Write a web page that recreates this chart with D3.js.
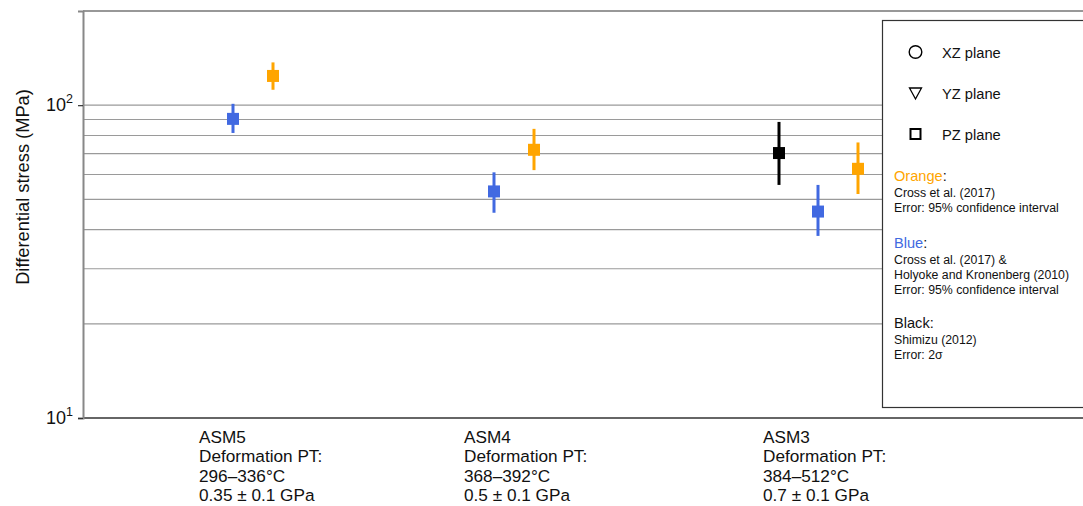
<!DOCTYPE html>
<html>
<head>
<meta charset="utf-8">
<script src="https://cdn.jsdelivr.net/npm/d3@7"></script>
<style>
  body { margin: 0; background: #fff; }
  text { font-family: "Liberation Sans", Arial, sans-serif; }
</style>
</head>
<body>
<div id="chart"></div>
<script>
// Samples along the x axis
var samples = ["ASM5", "ASM4", "ASM3"];
var sampleTemps = ["296–336°C", "368–392°C", "384–512°C"];
var samplePressures = ["0.35 ± 0.1 GPa", "0.5 ± 0.1 GPa", "0.7 ± 0.1 GPa"];
var sampleLabelX = [1.16, 3.81, 6.80];

// Orange: Cross et al. (2017)
var orangeX = [1.90, 4.51, 7.75];
var orangeStress = [124, 72, 62.6];
var orangeLow = [112, 62, 52];
var orangeHigh = [137, 84, 76];

// Blue: Cross et al. (2017) & Holyoke and Kronenberg (2010)
var blueX = [1.50, 4.11, 7.35];
var blueStress = [90.4, 53, 45.7];
var blueLow = [81.5, 45.3, 38.2];
var blueHigh = [101, 61, 55.6];

// Black: Shimizu (2012)
var blackX = [6.96];
var blackStress = [70.3];
var blackLow = [55.6];
var blackHigh = [88.4];

var yTicks = [10, 100];
var yGrid = [20, 30, 40, 50, 60, 70, 80, 90, 100];

var width = 1083, height = 506;
var margin = { top: 11, left: 83, bottom: 88 };

var svg = d3.select("#chart").append("svg")
  .attr("width", width)
  .attr("height", height);

var x = d3.scaleLinear().domain([0, 10]).range([margin.left, margin.left + 1000]);
var y = d3.scaleLog().domain([10, 200]).range([height - margin.bottom, margin.top]);

// grid lines
svg.append("g").selectAll("line")
  .data(yGrid)
  .enter().append("line")
    .attr("x1", margin.left).attr("x2", width)
    .attr("y1", function(d) { return y(d); })
    .attr("y2", function(d) { return y(d); })
    .style("stroke", "#9a9a9a")
    .style("stroke-width", 1.1);

// top border
svg.append("line")
  .attr("x1", margin.left).attr("x2", width)
  .attr("y1", y(200)).attr("y2", y(200))
  .style("stroke", "#333").style("stroke-width", 1.2);

// bottom axis line
svg.append("line")
  .attr("x1", margin.left).attr("x2", width)
  .attr("y1", y(10)).attr("y2", y(10))
  .style("stroke", "#333").style("stroke-width", 1.5);

// left axis
var yAxis = svg.append("g")
  .attr("transform", "translate(" + margin.left + ",0)")
  .call(d3.axisLeft(y).tickValues(yTicks).tickSize(5).tickFormat(""));
yAxis.select(".domain").style("stroke", "#888").style("stroke-width", 2);
yAxis.selectAll(".tick line").style("stroke", "#333").style("stroke-width", 1.2);

var tickLabel = svg.append("g").selectAll("text")
  .data(yTicks)
  .enter().append("text")
    .attr("x", margin.left - 10)
    .attr("y", function(d) { return y(d) + 6; })
    .attr("text-anchor", "end")
    .style("font-size", "18px")
    .style("fill", "#111");
tickLabel.append("tspan").text("10");
tickLabel.append("tspan")
  .attr("dy", -8)
  .style("font-size", "12.5px")
  .text(function(d) { return Math.round(Math.log10(d)); });

// y label
svg.append("text")
  .attr("transform", "translate(29," + 187 + ") rotate(-90)")
  .attr("text-anchor", "middle")
  .style("font-size", "18.3px")
  .style("fill", "#111")
  .text("Differential stress (MPa)");

// x labels, one text per line
samples.forEach(function(s, i) {
  var lines = [s, "Deformation PT:", sampleTemps[i], samplePressures[i]];
  svg.append("g").selectAll("text")
    .data(lines)
    .enter().append("text")
      .attr("x", x(sampleLabelX[i]))
      .attr("y", function(d, k) { return y(10) + 25 + k * 19.3; })
      .style("font-size", "17.2px")
      .style("fill", "#111")
      .text(function(d) { return d; });
});

// error bars + markers
function drawSeries(xs, vals, lows, highs, color) {
  var g = svg.append("g");
  var pts = vals.map(function(v, i) { return { x: xs[i], v: v, lo: lows[i], hi: highs[i] }; });
  g.selectAll("line")
    .data(pts)
    .enter().append("line")
      .attr("x1", function(d) { return x(d.x); })
      .attr("x2", function(d) { return x(d.x); })
      .attr("y1", function(d) { return y(d.lo); })
      .attr("y2", function(d) { return y(d.hi); })
      .style("stroke", color)
      .style("stroke-width", 3);
  g.selectAll("rect")
    .data(pts)
    .enter().append("rect")
      .attr("x", function(d) { return x(d.x) - 6; })
      .attr("y", function(d) { return y(d.v) - 6; })
      .attr("width", 12)
      .attr("height", 12)
      .style("fill", color);
}
drawSeries(blueX, blueStress, blueLow, blueHigh, "#4169e1");
drawSeries(orangeX, orangeStress, orangeLow, orangeHigh, "#ffa500");
drawSeries(blackX, blackStress, blackLow, blackHigh, "#000");

// legend
var lg = svg.append("g");
lg.append("rect")
  .attr("x", 882.5).attr("y", 20.5)
  .attr("width", 260).attr("height", 387)
  .style("fill", "#fff")
  .style("stroke", "#333")
  .style("stroke-width", 1.2);

var markerNames = ["XZ plane", "YZ plane", "PZ plane"];
var markerY = [52, 93, 134];
lg.append("circle")
  .attr("cx", 915.5).attr("cy", markerY[0]).attr("r", 6.3)
  .style("fill", "none").style("stroke", "#000").style("stroke-width", 1.4);
lg.append("path")
  .attr("d", "M909.5," + (markerY[1] - 5) + "L921.5," + (markerY[1] - 5) + "L915.5," + (markerY[1] + 6) + "Z")
  .style("fill", "none").style("stroke", "#000").style("stroke-width", 1.3);
lg.append("rect")
  .attr("x", 910.5).attr("y", markerY[2] - 5).attr("width", 10).attr("height", 10)
  .style("fill", "none").style("stroke", "#000").style("stroke-width", 2);
lg.selectAll(".mname")
  .data(markerNames)
  .enter().append("text")
    .attr("class", "mname")
    .attr("x", 942)
    .attr("y", function(d, i) { return markerY[i] + 5.5; })
    .style("font-size", "14.7px")
    .style("fill", "#111")
    .text(function(d) { return d; });

var sourceNames = ["Orange", "Blue", "Black"];
var sourceColors = ["#ffa500", "#4169e1", "#111"];
var sourceY = [181, 248, 328];
var sourceNotes = [
  ["Cross et al. (2017)", "Error: 95% confidence interval"],
  ["Cross et al. (2017) &", "Holyoke and Kronenberg (2010)", "Error: 95% confidence interval"],
  ["Shimizu (2012)", "Error: 2σ"]
];
sourceNames.forEach(function(n, i) {
  var t = lg.append("text")
    .attr("x", 894).attr("y", sourceY[i])
    .style("font-size", "14.6px");
  t.append("tspan").style("fill", sourceColors[i]).text(n);
  t.append("tspan").style("fill", "#111").text(":");
  var nt = lg.append("text")
    .attr("x", 894).attr("y", sourceY[i] + 15.5)
    .style("font-size", "12.3px")
    .style("fill", "#111");
  sourceNotes[i].forEach(function(l, k) {
    nt.append("tspan").attr("x", 894).attr("dy", k === 0 ? 0 : 15).text(l);
  });
});
</script>
</body>
</html>
